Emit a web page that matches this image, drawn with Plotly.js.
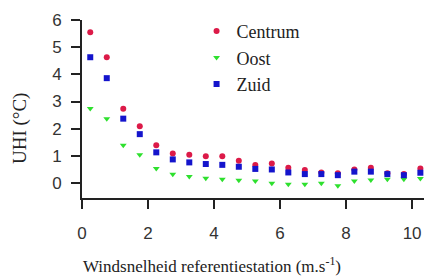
<!DOCTYPE html>
<html>
<head>
<meta charset="utf-8">
<script src="https://cdn.plot.ly/plotly-3.0.1.min.js"></script>
<style>html,body{margin:0;padding:0;background:#fff;}#chart{width:424px;height:277px;}</style>
</head>
<body>
<div id="chart"></div>
<script>
const windSpeed = [0.25,0.75,1.25,1.75,2.25,2.75,3.25,3.75,4.25,4.75,5.25,5.75,6.25,6.75,7.25,7.75,8.25,8.75,9.25,9.75,10.25];
const centrum = [5.55,4.63,2.73,2.09,1.39,1.09,1.04,0.99,0.99,0.82,0.66,0.72,0.56,0.48,0.39,0.36,0.50,0.56,0.36,0.33,0.54];
const oost    = [2.74,2.37,1.39,1.04,0.54,0.32,0.24,0.18,0.14,0.10,0.08,-0.01,-0.04,-0.04,-0.01,-0.10,0.08,0.11,0.14,0.14,0.17];
const zuid    = [4.63,3.86,2.37,1.80,1.13,0.87,0.76,0.70,0.67,0.60,0.52,0.50,0.39,0.33,0.33,0.29,0.42,0.42,0.33,0.29,0.38];
const seriesNames = ['Centrum','Oost','Zuid'];
const xTicks = [0,2,4,6,8,10];
const yTicks = [0,1,2,3,4,5,6];

const colors = ['#dc1a48','#2ee02e','#1414cc'];
const symbols = ['circle','triangle-down','square'];
const ys = [centrum, oost, zuid];

const traces = ys.map((y,i)=>({
  x: windSpeed, y: y, type:'scatter', mode:'markers', name: seriesNames[i],
  marker:{color:colors[i], size:6, symbol:symbols[i]}
}));

const layout = {
  width:424, height:277,
  margin:{l:82, r:0, t:20, b:79},
  paper_bgcolor:'#fff', plot_bgcolor:'#fff',
  showlegend:true,
  legend:{x:0.335, y:1.04, xanchor:'left', yanchor:'top', bgcolor:'rgba(0,0,0,0)',
          font:{family:'Liberation Serif', size:18, color:'#222'}, tracegroupgap:0},
  xaxis:{range:[0,10.36], tickvals:xTicks, ticks:'outside', ticklen:9, tickwidth:2, tickcolor:'#222',
         showline:true, linecolor:'#222', linewidth:2, showgrid:false, zeroline:false,
         tickfont:{family:'Liberation Sans', size:17, color:'#333'}, ticklabelstandoff:10},
  yaxis:{range:[-0.55,6], tickvals:yTicks, ticks:'outside', ticklen:9, tickwidth:2, tickcolor:'#222',
         showline:true, linecolor:'#222', linewidth:2, showgrid:false, zeroline:false,
         tickfont:{family:'Liberation Sans', size:17, color:'#333'}, ticklabelstandoff:6},
  annotations:[
    {text:'Windsnelheid referentiestation (m.s<sup>-1</sup>)', xref:'paper', yref:'paper',
     x:0.381, y:-0.375, xanchor:'center', yanchor:'middle', showarrow:false,
     font:{family:'Liberation Serif', size:17, color:'#222'}},
    {text:'UHI (°C)', xref:'paper', yref:'paper', x:-0.181, y:0.388, textangle:-90,
     xanchor:'center', yanchor:'middle', showarrow:false,
     font:{family:'Liberation Serif', size:19, color:'#222'}}
  ]
};
Plotly.newPlot('chart', traces, layout, {staticPlot:true, displayModeBar:false});
</script>
</body>
</html>
